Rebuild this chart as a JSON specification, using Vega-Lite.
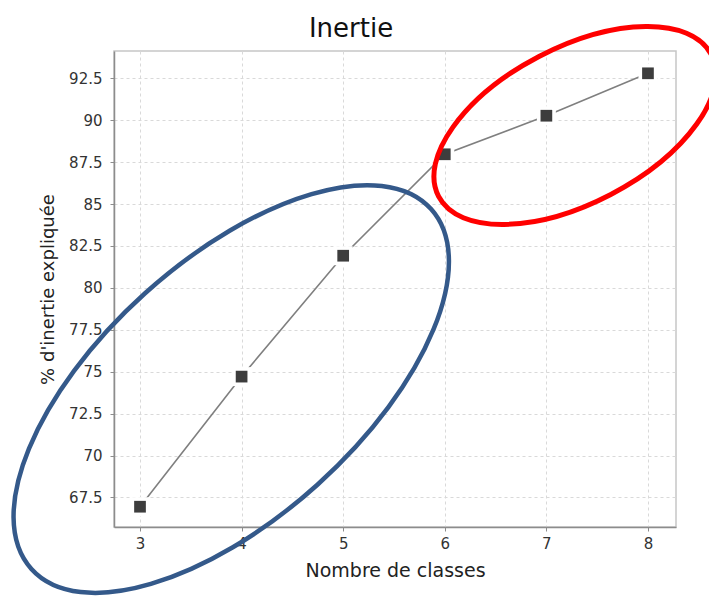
{
  "$schema": "https://vega.github.io/schema/vega-lite/v6.json",
  "width": 562,
  "height": 476,
  "autosize": "none",
  "padding": {"left": 114, "top": 51, "right": 33, "bottom": 70},
  "background": "white",
  "title": {
    "text": "Inertie",
    "font": "DejaVu Sans",
    "fontSize": 26,
    "fontWeight": "normal",
    "color": "#111111",
    "anchor": "middle",
    "dx": -44,
    "dy": 34,
    "offset": 8
  },
  "config": {
    "view": {"stroke": "#c6c6c6", "strokeWidth": 1.5}
  },
  "data": {
    "values": [
      {"k": 3, "pct": 66.95},
      {"k": 4, "pct": 74.71},
      {"k": 5, "pct": 81.92},
      {"k": 6, "pct": 87.97},
      {"k": 7, "pct": 90.27},
      {"k": 8, "pct": 92.8}
    ]
  },
  "encoding": {
    "x": {
      "field": "k",
      "type": "quantitative",
      "scale": {"domain": [2.744, 8.276], "nice": false, "zero": false},
      "axis": {
        "values": [3, 4, 5, 6, 7, 8], "format": "d",
        "title": "Nombre de classes",
        "grid": true, "gridDash": [3, 3], "gridColor": "#d9d9d9", "gridWidth": 1,
        "domainColor": "#8c8c8c", "domainWidth": 1.5, "tickColor": "#8c8c8c", "tickSize": 4,
        "labelFont": "DejaVu Sans", "labelFontSize": 15, "labelColor": "#333333", "labelPadding": 5,
        "titleFont": "DejaVu Sans", "titleFontSize": 19, "titleFontWeight": "normal", "titleColor": "#222222", "titlePadding": 10
      }
    },
    "y": {
      "field": "pct",
      "type": "quantitative",
      "scale": {"domain": [65.74, 94.13], "nice": false, "zero": false},
      "axis": {
        "values": [67.5, 70, 72.5, 75, 77.5, 80, 82.5, 85, 87.5, 90, 92.5], "format": ".1~f",
        "title": "% d'inertie expliquée",
        "grid": true, "gridDash": [3, 3], "gridColor": "#d9d9d9", "gridWidth": 1,
        "domainColor": "#8c8c8c", "domainWidth": 1.5, "tickColor": "#8c8c8c", "tickSize": 4,
        "labelFont": "DejaVu Sans", "labelFontSize": 15, "labelColor": "#333333", "labelPadding": 8,
        "titleFont": "DejaVu Sans", "titleFontSize": 18, "titleFontWeight": "normal", "titleColor": "#222222", "titlePadding": 11
      }
    }
  },
  "layer": [
    {"mark": {"type": "line", "color": "#7f7f7f", "strokeWidth": 1.6}},
    {"mark": {"type": "point", "shape": "square", "filled": true, "color": "#ffffff", "opacity": 1, "size": 360}},
    {"mark": {"type": "point", "shape": "square", "filled": true, "color": "#3d3d3d", "opacity": 1, "size": 137}},
    {
      "data": {"values": [{"k": 3.898, "pct": 73.97}]},
      "mark": {
        "type": "point",
        "shape": "M1,0C1,0.2646,0.5523,0.479,0,0.479C-0.5523,0.479,-1,0.2646,-1,0C-1,-0.2646,-0.5523,-0.479,0,-0.479C0.5523,-0.479,1,-0.2646,1,0Z",
        "size": 289229,
        "angle": 318,
        "filled": false,
        "stroke": "#34598a",
        "strokeWidth": 4.5,
        "opacity": 1
      }
    },
    {
      "data": {"values": [{"k": 7.281, "pct": 89.69}]},
      "mark": {
        "type": "point",
        "shape": "M1,0C1,0.2795,0.5523,0.506,0,0.506C-0.5523,0.506,-1,0.2795,-1,0C-1,-0.2795,-0.5523,-0.506,0,-0.506C0.5523,-0.506,1,-0.2795,1,0Z",
        "size": 94495,
        "angle": 332.5,
        "filled": false,
        "stroke": "#ff0000",
        "strokeWidth": 5,
        "opacity": 1
      }
    }
  ]
}
